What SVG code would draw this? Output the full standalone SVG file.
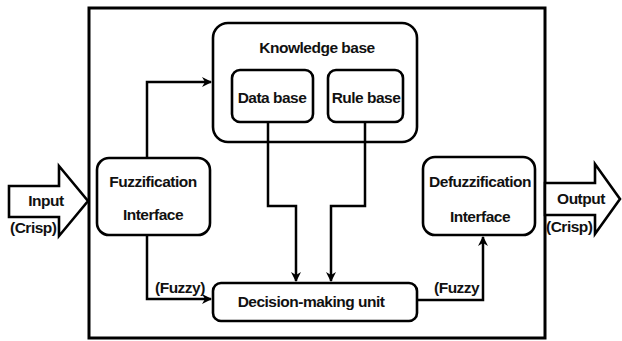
<svg xmlns="http://www.w3.org/2000/svg" width="622" height="341" viewBox="0 0 622 341">
  <style>
    .box { fill: #ffffff; stroke: #000000; stroke-width: 2.6; }
    .frame { fill: none; stroke: #000000; stroke-width: 3; }
    .wire { fill: none; stroke: #000000; stroke-width: 2.5; }
    .big { fill: #ffffff; stroke: #000000; stroke-width: 2.6; stroke-linejoin: miter; }
    text { font-family: "Liberation Sans", Arial, sans-serif; font-weight: bold; font-size: 15.5px; letter-spacing: -0.5px; fill: #111111; }
    .c { text-anchor: middle; }
  </style>
  <defs>
    <marker id="arrow" viewBox="0 0 10 10" refX="9" refY="5" markerWidth="4" markerHeight="4" orient="auto" markerUnits="strokeWidth">
      <path d="M0,0 L10,5 L0,10 L3,5 Z" fill="#000000"/>
    </marker>
  </defs>
  <rect width="622" height="341" fill="#ffffff"/>

  <!-- system boundary -->
  <rect class="frame" x="89" y="8" width="456" height="330"/>

  <!-- crisp input / output arrows -->
  <g id="input">
    <path class="big" d="M9,186 L59,186 L59,166 L88,201 L59,236 L59,217 L9,217 Z"/>
    <text class="c" x="46" y="206">Input</text>
    <text x="10" y="233">(Crisp)</text>
  </g>
  <g id="output">
    <path class="big" d="M545,183 L595,183 L595,164 L620,199 L595,234 L595,215 L545,215 Z"/>
    <text class="c" x="581" y="204">Output</text>
    <text x="546" y="232">(Crisp)</text>
  </g>

  <!-- knowledge base with its two stores -->
  <g id="knowledge-base">
    <rect class="box" x="213" y="23" width="204" height="119" rx="15"/>
    <text class="c" x="317" y="53">Knowledge base</text>
  </g>
  <g id="data-base">
    <rect class="box" x="232" y="70" width="81" height="52" rx="8"/>
    <text class="c" x="272" y="103">Data base</text>
  </g>
  <g id="rule-base">
    <rect class="box" x="328" y="70" width="75" height="52" rx="8"/>
    <text class="c" x="366" y="103">Rule base</text>
  </g>

  <g id="fuzzification">
    <rect class="box" x="97" y="158" width="113" height="77" rx="12"/>
    <text class="c" x="153" y="187">Fuzzification</text>
    <text class="c" x="153" y="220">Interface</text>
  </g>

  <g id="defuzzification">
    <rect class="box" x="423" y="157" width="112" height="78" rx="12"/>
    <text class="c" x="480" y="187">Defuzzification</text>
    <text class="c" x="480" y="222">Interface</text>
  </g>

  <g id="decision-unit">
    <rect class="box" x="213" y="283" width="204" height="38" rx="8"/>
    <text class="c" x="311" y="307">Decision-making unit</text>
  </g>

  <!-- signal flow -->
  <g id="connectors">
    <path class="wire" d="M147,158 L147,82 L211,82" marker-end="url(#arrow)"/>
    <path class="wire" d="M147,235 L147,299 L211,299" marker-end="url(#arrow)"/>
    <path class="wire" d="M268,122 L268,206 L296,206 L296,281" marker-end="url(#arrow)"/>
    <path class="wire" d="M365,122 L365,206 L331,206 L331,281" marker-end="url(#arrow)"/>
    <path class="wire" d="M417,300 L483,300 L483,237" marker-end="url(#arrow)"/>
    <text x="155" y="293">(Fuzzy)</text>
    <text x="434" y="293">(Fuzzy</text>
  </g>
</svg>
